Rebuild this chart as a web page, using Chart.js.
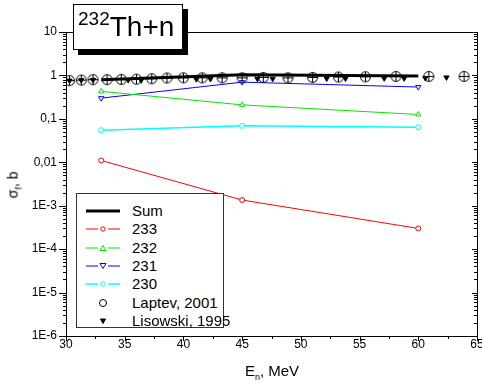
<!DOCTYPE html>
<html>
<head>
<meta charset="utf-8">
<script src="https://cdn.jsdelivr.net/npm/chart.js@4.4.1/dist/chart.umd.min.js"></script>
<style>
  body { margin: 0; background: #fff; font-family: "Liberation Sans", Arial, sans-serif; }
  #wrap { position: relative; width: 482px; height: 389px; overflow: hidden; }
  #myChart { position: absolute; left: 0; top: 0; }
  #title {
    position: absolute; left: 73px; top: 4px; width: 108px; height: 44px;
    border: 1px solid #000; background: #fff; box-shadow: 5px 5px 0 #000;
    font-size: 28px; line-height: 44px; color: #000; white-space: nowrap;
  }
  #title span { display: inline-block; margin-left: 4px; }
  #title sup { font-size: 19px; vertical-align: 0; position: relative; top: -11px; }
  #legend {
    position: absolute; left: 76px; top: 193px; width: 146px; height: 133px;
    border: 1px solid #333; background: #fff;
  }
  .row { position: absolute; left: 8px; height: 18px; font-size: 15px; line-height: 18px; color: #000; white-space: nowrap; }
  .row svg { position: absolute; left: 0; top: 4px; }
  .row span { position: absolute; left: 47px; top: 0; }
  #ytitle {
    position: absolute; left: 14px; top: 185px; transform: translate(-50%, -50%) rotate(-90deg);
    font-size: 14px; white-space: nowrap;
  }
  #xtitle {
    position: absolute; left: 272px; top: 372px; transform: translate(-50%, -50%);
    font-size: 15px; white-space: nowrap;
  }
  sub { font-size: 9px; }
</style>
</head>
<body>
<div id="wrap">
  <canvas id="myChart" width="482" height="389"></canvas>
  <div id="title"><span><sup>232</sup>Th+n</span></div>
  <div id="legend"></div>
  <div id="ytitle">&sigma;<sub>f</sub>, b</div>
  <div id="xtitle">E<sub>n</sub>, MeV</div>
</div>
<script>
// model curves (E in MeV, cross-section in b)
const modelE = [33, 45, 60];
const sumValues = [0.8, 1.03, 0.97];
const th233 = [0.011, 0.00135, 0.0003];
const th232 = [0.43, 0.21, 0.126];
const th231 = [0.30, 0.70, 0.54];
const th230 = [0.055, 0.069, 0.064];

// experimental points
const laptevE = [30.3, 31.3, 32.3, 33.5, 34.7, 36.0, 37.3, 38.6, 40.0, 41.6, 43.3, 45.0, 46.8, 48.9, 51.0, 53.2, 55.5, 58.1, 60.9, 63.9];
const laptevValues = [0.76, 0.78, 0.8, 0.8, 0.81, 0.82, 0.84, 0.87, 0.88, 0.88, 0.88, 0.88, 0.9, 0.88, 0.9, 0.92, 0.93, 0.95, 0.95, 0.95];
const lisowskiE = [30.3, 31.3, 32.3, 35.3, 36.4, 41.1, 42.3, 46.3, 47.6, 52.2, 53.8, 57.1, 58.8, 60.6, 62.4];
const lisowskiValues = [0.76, 0.78, 0.79, 0.78, 0.77, 0.82, 0.83, 0.84, 0.84, 0.85, 0.85, 0.86, 0.86, 0.87, 0.9];

// axis ticks
const xTickValues = [30, 35, 40, 45, 50, 55, 60, 65];
const yTickValues = [1e-6, 1e-5, 1e-4, 1e-3, 0.01, 0.1, 1, 10];
const yTickLabels = ['1E-6', '1E-5', '1E-4', '1E-3', '0,01', '0,1', '1', '10'];

function pts(xs, ys) {
  return xs.map((x, i) => ({ x: x, y: ys[i] }));
}

// open circle with error-bar cross for Laptev points
let laptevMark = document.createElement('canvas');
laptevMark.width = 13;
laptevMark.height = 13;
let mctx = laptevMark.getContext('2d');
mctx.strokeStyle = '#000';
mctx.lineWidth = 1;
mctx.beginPath();
mctx.arc(6.5, 6.5, 5, 0, Math.PI * 2);
mctx.stroke();
mctx.beginPath();
mctx.moveTo(1.5, 6.5); mctx.lineTo(11.5, 6.5);
mctx.moveTo(6.5, 1.5); mctx.lineTo(6.5, 11.5);
mctx.stroke();

const series = [
  { label: 'Sum', data: pts(modelE, sumValues), color: '#000', width: 3, style: false },
  { label: '233', data: pts(modelE, th233), color: '#ff0000', width: 1, style: 'circle', radius: 2.5 },
  { label: '232', data: pts(modelE, th232), color: '#00e600', width: 1, style: 'triangle', radius: 3 },
  { label: '231', data: pts(modelE, th231), color: '#0000ff', width: 1, style: 'triangle', radius: 3, rot: 180 },
  { label: '230', data: pts(modelE, th230), color: '#00ffff', width: 1.5, style: 'circle', radius: 2.5 },
];

let datasets = series.map(s => ({
  label: s.label,
  data: s.data,
  borderColor: s.color,
  backgroundColor: s.color,
  borderWidth: s.width,
  pointStyle: s.style,
  pointRadius: s.style ? s.radius : 0,
  pointRotation: s.rot || 0,
  pointBorderColor: s.color,
  pointBackgroundColor: '#fff',
  pointBorderWidth: 1,
  tension: 0,
  order: s.label === 'Sum' ? 3 : 2,
}));

datasets.push({
  label: 'Laptev, 2001',
  data: pts(laptevE, laptevValues),
  showLine: false,
  pointStyle: laptevMark,
  order: 1,
});
datasets.push({
  label: 'Lisowski, 1995',
  data: pts(lisowskiE, lisowskiValues),
  showLine: false,
  pointStyle: 'triangle',
  pointRotation: 180,
  pointRadius: 3,
  pointBorderWidth: 1,
  pointBorderColor: '#000',
  pointBackgroundColor: '#000',
  order: 0,
});

// frame and tick marks on all four sides
const framePlugin = {
  id: 'frame',
  afterDraw(chart) {
    const ctx = chart.ctx;
    const a = chart.chartArea;
    const xs = chart.scales.x;
    const ys = chart.scales.y;
    ctx.save();
    ctx.strokeStyle = '#000';
    ctx.lineWidth = 1;
    ctx.strokeRect(Math.round(a.left) + 0.5, Math.round(a.top) + 0.5, Math.round(a.right - a.left), Math.round(a.bottom - a.top));
    ctx.beginPath();
    for (let v = 30; v <= 65; v += 2.5) {
      const px = Math.round(xs.getPixelForValue(v)) + 0.5;
      const len = (v % 5 === 0) ? 5 : 3;
      ctx.moveTo(px, a.bottom); ctx.lineTo(px, a.bottom + len);
    }
    for (let d = -6; d < 1; d++) {
      for (let m = 1; m <= 9; m++) {
        const v = m * Math.pow(10, d);
        const py = Math.round(ys.getPixelForValue(v)) + 0.5;
        if (m === 1) {
          ctx.moveTo(a.left - 7, py); ctx.lineTo(a.left, py);
          ctx.moveTo(a.right - 5, py); ctx.lineTo(a.right, py);
        } else {
          ctx.moveTo(a.left - 3, py); ctx.lineTo(a.left, py);
          ctx.moveTo(a.right - 3, py); ctx.lineTo(a.right, py);
        }
      }
    }
    const top = Math.round(ys.getPixelForValue(10)) + 0.5;
    ctx.moveTo(a.left - 7, top); ctx.lineTo(a.left, top);
    ctx.stroke();
    ctx.restore();
  }
};

Chart.defaults.font.family = '"Liberation Sans", Arial, sans-serif';
Chart.defaults.color = '#000';

const config = {
  type: 'line',
  data: { datasets: datasets },
  options: {
    responsive: false,
    animation: false,
    layout: { padding: { left: 0, top: 32, right: 4, bottom: 0 } },
    plugins: {
      legend: { display: false },
      tooltip: { enabled: false },
    },
    scales: {
      x: {
        type: 'linear',
        min: 30,
        max: 65,
        grid: { display: false, drawTicks: false },
        border: { display: false },
        afterBuildTicks: (scale) => { scale.ticks = xTickValues.map(v => ({ value: v })); },
        ticks: { font: { size: 12 }, padding: 1, maxRotation: 0, callback: (v) => String(v) },
        afterFit: (scale) => { scale.height = 53; scale.paddingLeft = 0; scale.paddingRight = 0; },
      },
      y: {
        type: 'logarithmic',
        min: 1e-6,
        max: 10,
        grid: { display: false, drawTicks: false },
        border: { display: false },
        afterBuildTicks: (scale) => { scale.ticks = yTickValues.map(v => ({ value: v })); },
        ticks: {
          font: { size: 12 },
          padding: 9,
          callback: (v, i) => yTickLabels[i],
        },
        afterFit: (scale) => { scale.width = 66; scale.paddingTop = 0; scale.paddingBottom = 0; },
      },
    },
  },
  plugins: [framePlugin],
};

const myChart = new Chart(document.getElementById('myChart'), config);

// legend box (drawn inside the plot like the original)
const legendRows = [
  { text: 'Sum', color: '#000', line: 3, mark: '' },
  { text: '233', color: '#ff0000', line: 1, mark: 'circle' },
  { text: '232', color: '#00e600', line: 1, mark: 'up' },
  { text: '231', color: '#0000ff', line: 1, mark: 'down' },
  { text: '230', color: '#00ffff', line: 1.5, mark: 'circle' },
  { text: 'Laptev, 2001', color: '#000', line: 0, mark: 'bigcircle' },
  { text: 'Lisowski, 1995', color: '#000', line: 0, mark: 'filldown' },
];

let legendDiv = document.getElementById('legend');
legendRows.forEach((r, i) => {
  let row = document.createElement('div');
  row.className = 'row';
  row.style.top = (8 + i * 18.3) + 'px';
  let svg = '<svg width="38" height="10" viewBox="0 0 38 10">';
  if (r.line) {
    if (r.mark) {
      svg += `<line x1="1" y1="5" x2="13" y2="5" stroke="${r.color}" stroke-width="${r.line}"/>`;
      svg += `<line x1="23" y1="5" x2="35" y2="5" stroke="${r.color}" stroke-width="${r.line}"/>`;
    } else {
      svg += `<line x1="1" y1="5" x2="35" y2="5" stroke="${r.color}" stroke-width="${r.line}"/>`;
    }
  }
  if (r.mark === 'circle') svg += `<circle cx="18" cy="5" r="2.2" fill="#fff" stroke="${r.color}"/>`;
  if (r.mark === 'up') svg += `<polygon points="18,2.5 21,7.5 15,7.5" fill="#fff" stroke="${r.color}"/>`;
  if (r.mark === 'down') svg += `<polygon points="18,7.5 21,2.5 15,2.5" fill="#fff" stroke="${r.color}"/>`;
  if (r.mark === 'bigcircle') svg += `<circle cx="18" cy="5" r="3.5" fill="none" stroke="#000"/>`;
  if (r.mark === 'filldown') svg += `<polygon points="18,7.5 20.5,3 15.5,3" fill="#000" stroke="#000"/>`;
  svg += '</svg>';
  row.innerHTML = svg + '<span>' + r.text + '</span>';
  legendDiv.appendChild(row);
});
</script>
</body>
</html>
